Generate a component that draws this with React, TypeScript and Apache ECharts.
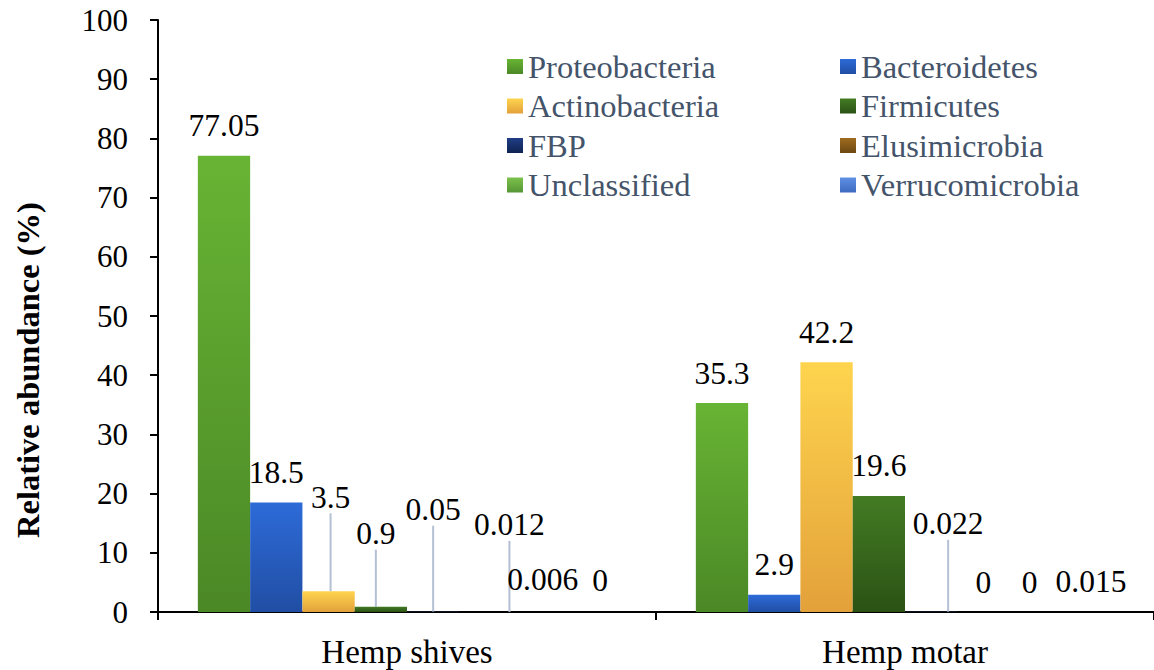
import React, { useEffect, useRef } from "react";
import * as echarts from "echarts";

const categories = ["Hemp shives", "Hemp motar"];
const seriesNames = [
  "Proteobacteria",
  "Bacteroidetes",
  "Actinobacteria",
  "Firmicutes",
  "FBP",
  "Elusimicrobia",
  "Unclassified",
  "Verrucomicrobia",
];
const proteobacteria = [77.05, 35.3];
const bacteroidetes = [18.5, 2.9];
const actinobacteria = [3.5, 42.2];
const firmicutes = [0.9, 19.6];
const fbp = [0.05, 0.022];
const elusimicrobia = [0.012, 0];
const unclassified = [0.006, 0];
const verrucomicrobia = [0, 0.015];
const yTicks = { min: 0, max: 100, interval: 10 };

const seriesValues = [
  proteobacteria,
  bacteroidetes,
  actinobacteria,
  firmicutes,
  fbp,
  elusimicrobia,
  unclassified,
  verrucomicrobia,
];

const gradients: [string, string][] = [
  ["#68b434", "#4b8826"],
  ["#2d6bd8", "#214ea4"],
  ["#fed44e", "#e3a13a"],
  ["#437b23", "#2b5215"],
  ["#203e86", "#0e2352"],
  ["#9e6c1f", "#6d4812"],
  ["#7cc24c", "#579635"],
  ["#5f90e2", "#3d6bc0"],
];

// label offsets (dx, dy, leader line) per series per category
const labelShift: Record<number, [number, number, boolean][]> = {
  2: [[2, -64, true], [0, 0, false]],
  3: [[-5, -43, true], [0, 0, false]],
  4: [[0, -72, true], [17, -58, true]],
  5: [[24, -57, true], [0, 0, false]],
  6: [[5, -2, false], [-6, 0, false]],
  7: [[10, -2, false], [3, 0, false]],
};

const serif = "Liberation Serif";

export default function App() {
  const ref = useRef<HTMLDivElement>(null);
  useEffect(() => {
    if (!ref.current) return;
    const chart = echarts.init(ref.current, undefined, { renderer: "svg" });
    const series = seriesNames.map((name, si) => ({
      name,
      type: "bar",
      barGap: "0%",
      barCategoryGap: "16%",
      itemStyle: {
        color: new echarts.graphic.LinearGradient(0, 0, 0, 1, [
          { offset: 0, color: gradients[si][0] },
          { offset: 1, color: gradients[si][1] },
        ]),
      },
      data: seriesValues[si].map((v, ci) => {
        const shift = labelShift[si] ? labelShift[si][ci] : null;
        const withLine = !!(shift && shift[2]);
        return withLine ? { value: v, labelLine: { show: true } } : { value: v };
      }),
      label: {
        show: true,
        position: "top",
        distance: 14,
        color: "#000",
        fontFamily: serif,
        fontSize: 31.5,
      },
      labelLine: {
        show: false,
        lineStyle: { color: "#b4c0d4", width: 2 },
      },
      labelLayout: (params: any) => {
        const shift = labelShift[si] ? labelShift[si][params.dataIndex] : null;
        if (!shift) return {};
        return { dx: shift[0], dy: shift[1] };
      },
    }));

    const legendText = { color: "#44546a", fontFamily: serif, fontSize: 32.5 };
    const legendBase = {
      orient: "vertical",
      top: 50,
      padding: 0,
      itemWidth: 16,
      itemHeight: 15,
      itemGap: 6.5,
      icon: "rect",
      textStyle: legendText,
    };
    chart.setOption({
      animation: false,
      grid: { left: 158, top: 20, width: 1002, height: 592, containLabel: false },
      legend: [
        {
          ...legendBase,
          left: 507,
          data: ["Proteobacteria", "Actinobacteria", "FBP", "Unclassified"],
        },
        {
          ...legendBase,
          left: 840,
          data: ["Bacteroidetes", "Firmicutes", "Elusimicrobia", "Verrucomicrobia"],
        },
      ],
      xAxis: {
        type: "category",
        data: categories,
        axisLine: { lineStyle: { color: "#000", width: 2 } },
        axisTick: { show: true, length: 8, alignWithLabel: false, lineStyle: { color: "#000", width: 2 } },
        axisLabel: { color: "#000", fontFamily: serif, fontSize: 33, margin: 23 },
      },
      yAxis: {
        type: "value",
        min: yTicks.min,
        max: yTicks.max,
        interval: yTicks.interval,
        splitLine: { show: false },
        axisLine: { show: true, lineStyle: { color: "#000", width: 2 } },
        axisTick: { show: true, length: 8, lineStyle: { color: "#000", width: 2 } },
        axisLabel: { color: "#000", fontFamily: serif, fontSize: 31, margin: 30 },
      },
      graphic: [
        {
          type: "text",
          x: 28,
          y: 370,
          rotation: Math.PI / 2,
          style: {
            text: "Relative abundance (%)",
            fontFamily: serif,
            fontWeight: "bold",
            fontSize: 32.5,
            fill: "#000",
            align: "center",
            verticalAlign: "middle",
          },
        },
      ],
      series,
    });
    return () => chart.dispose();
  }, []);
  return (
    <div
      ref={ref}
      style={{ position: "absolute", left: 0, top: 0, width: 1154, height: 670, background: "#fff" }}
    />
  );
}
